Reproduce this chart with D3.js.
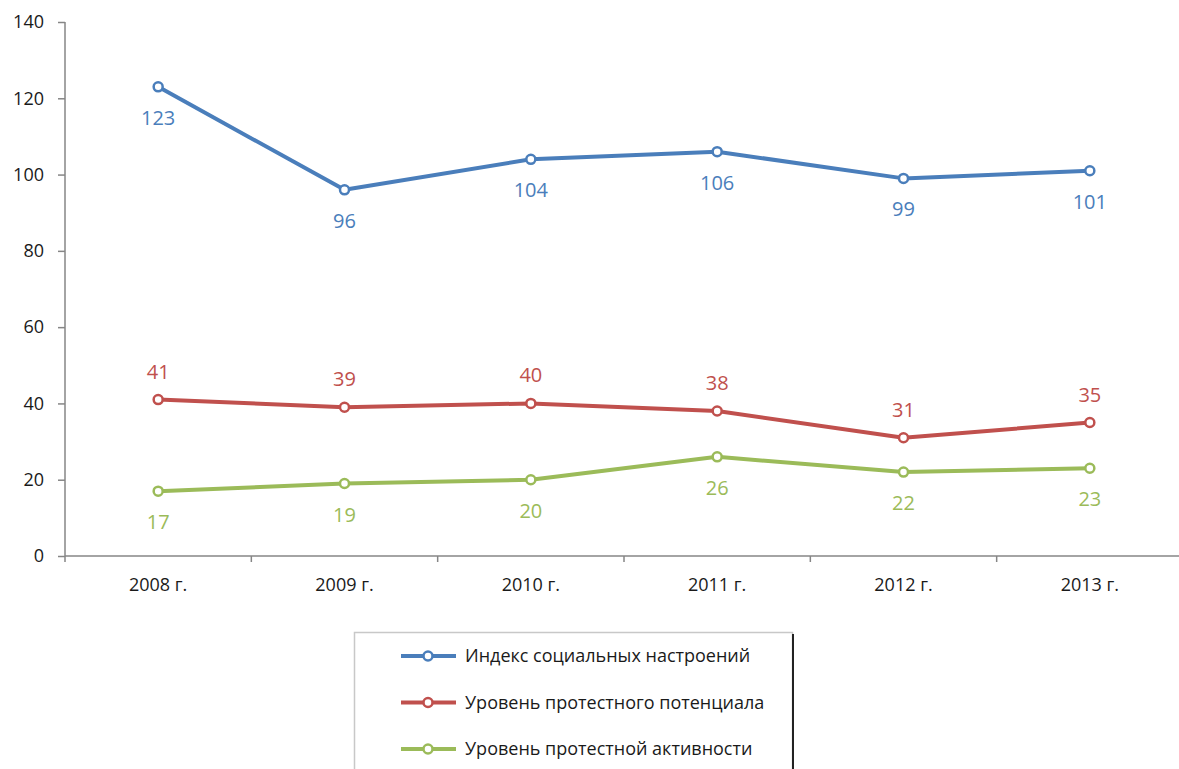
<!DOCTYPE html>
<html>
<head>
  <meta charset="utf-8">
  <style>
	body { margin: 0; background: #fff; }
	text { font-family: "Open Sans", "Liberation Sans", sans-serif; }
  </style>
</head>
<body>
<div id="chart"></div>
<script src="https://d3js.org/d3.v7.min.js"></script>
<script>
	const years = ["2008 г.", "2009 г.", "2010 г.", "2011 г.", "2012 г.", "2013 г."];
	const moodIndex = [123, 96, 104, 106, 99, 101];
	const protestPotential = [41, 39, 40, 38, 31, 35];
	const protestActivity = [17, 19, 20, 26, 22, 23];
	const seriesNames = ["Индекс социальных настроений", "Уровень протестного потенциала", "Уровень протестной активности"];
	const yTicks = [0, 20, 40, 60, 80, 100, 120, 140];

	const series = [
		{ name: seriesNames[0], values: moodIndex, color: "#4a7ebb", labelPos: "below" },
		{ name: seriesNames[1], values: protestPotential, color: "#c0504d", labelPos: "above" },
		{ name: seriesNames[2], values: protestActivity, color: "#9bbb59", labelPos: "below" }
	];

	const width = 1179, height = 769;
	const svg = d3.select('#chart').append('svg')
		.attr('width', width)
		.attr('height', height);

	const x = d3.scaleBand().domain(years).range([65, 1183]);
	const y = d3.scaleLinear().domain([0, 140]).range([556, 22]);

	// y axis
	const yAxis = svg.append('g')
		.attr('transform', 'translate(65,0)')
		.call(d3.axisLeft(y).tickValues(yTicks).tickSize(7).tickPadding(14));
	yAxis.selectAll('line, path').attr('stroke', '#868686').attr('stroke-width', 1.5);
	yAxis.select('.domain').attr('d', 'M0,' + y(140) + 'V' + y(0));
	yAxis.selectAll('text').attr('font-size', 18).attr('fill', '#1a1a1a')
		.style('font-family', '"Open Sans", sans-serif');

	// x axis
	const xAxis = svg.append('g')
		.attr('transform', 'translate(0,' + y(0) + ')');
	xAxis.append('line')
		.attr('x1', 65).attr('x2', 1183)
		.attr('stroke', '#868686').attr('stroke-width', 1.5);
	const bounds = years.map(d => x(d)).concat([x(years[years.length - 1]) + x.bandwidth()]);
	xAxis.selectAll('line.tick').data(bounds).enter().append('line')
		.attr('class', 'tick')
		.attr('x1', d => d).attr('x2', d => d)
		.attr('y1', 0).attr('y2', 6)
		.attr('stroke', '#868686').attr('stroke-width', 1.5);
	xAxis.selectAll('text').data(years).enter().append('text')
		.attr('x', d => x(d) + x.bandwidth() / 2)
		.attr('y', 35)
		.attr('text-anchor', 'middle')
		.attr('font-size', 18)
		.attr('fill', '#1a1a1a')
		.text(d => d);

	const line = d3.line()
		.x((d, i) => x(years[i]) + x.bandwidth() / 2)
		.y(d => y(d));

	series.forEach(s => {
		const g = svg.append('g');
		g.append('path')
			.datum(s.values)
			.attr('d', line)
			.attr('fill', 'none')
			.attr('stroke', s.color)
			.attr('stroke-width', 4)
			.attr('stroke-linejoin', 'round');
		g.selectAll('circle').data(s.values).enter().append('circle')
			.attr('cx', (d, i) => x(years[i]) + x.bandwidth() / 2)
			.attr('cy', d => y(d))
			.attr('r', 4.5)
			.attr('fill', '#fff')
			.attr('stroke', s.color)
			.attr('stroke-width', 2.5);
		g.selectAll('text').data(s.values).enter().append('text')
			.attr('x', (d, i) => x(years[i]) + x.bandwidth() / 2)
			.attr('y', d => s.labelPos === 'below' ? y(d) + 38 : y(d) - 21)
			.attr('text-anchor', 'middle')
			.attr('font-size', 20)
			.attr('fill', s.color)
			.text(d => d);
	});

	// legend
	const legend = svg.append('g');
	legend.append('rect')
		.attr('x', 354.5).attr('y', 632.5)
		.attr('width', 438).attr('height', 150)
		.attr('fill', '#fff')
		.attr('stroke', '#c8c8c8').attr('stroke-width', 1.5);
	legend.append('line')
		.attr('x1', 793).attr('x2', 793)
		.attr('y1', 634).attr('y2', 769)
		.attr('stroke', '#222').attr('stroke-width', 2);
	series.forEach((s, i) => {
		const ly = 656 + i * 46.5;
		legend.append('line')
			.attr('x1', 401).attr('x2', 456)
			.attr('y1', ly).attr('y2', ly)
			.attr('stroke', s.color).attr('stroke-width', 4);
		legend.append('circle')
			.attr('cx', 428).attr('cy', ly).attr('r', 4.5)
			.attr('fill', '#fff').attr('stroke', s.color).attr('stroke-width', 2.5);
		legend.append('text')
			.attr('x', 465).attr('y', ly + 6)
			.attr('font-size', 18)
			.attr('fill', '#1a1a1a')
			.text(s.name);
	});
</script>
</body>
</html>
